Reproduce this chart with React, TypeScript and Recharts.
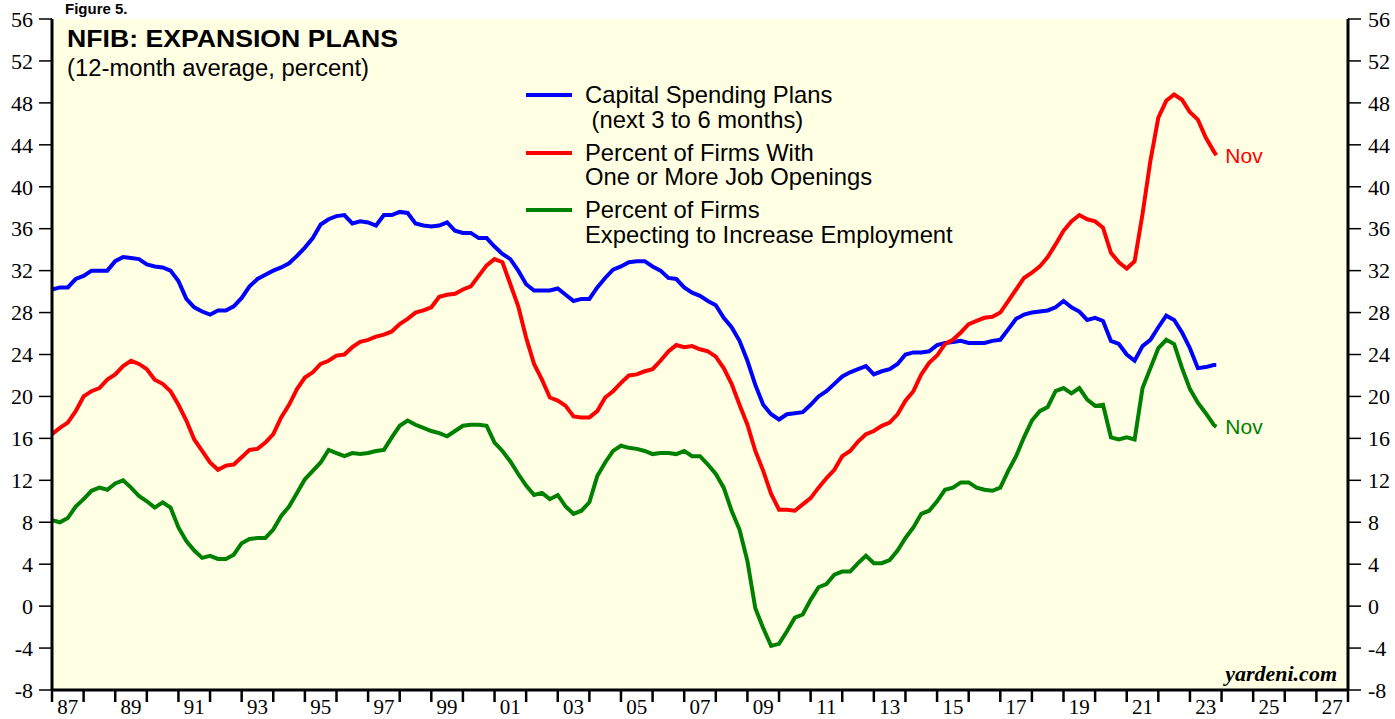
import * as React from 'react';
import {
  LineChart,
  Line,
  XAxis,
  YAxis,
  CartesianGrid,
  Legend,
} from 'recharts';

// ============================================
// Data (12-month averages, quarterly readings from Q1 1987, last point Nov 2023)
// ============================================

const START_YEAR = 1987;
const LAST_POINT = 2023 + 10 / 12; // Nov 2023

// Capital spending plans (next 3 to 6 months)
const capexPlans = [
  30.2, 30.4, 30.4, 31.2, // 87
  31.5, 32.0, 32.0, 32.0, // 88
  32.9, 33.3, 33.2, 33.1, // 89
  32.6, 32.4, 32.3, 32.0, // 90
  31.0, 29.3, 28.5, 28.1, // 91
  27.8, 28.2, 28.2, 28.6, // 92
  29.4, 30.5, 31.2, 31.6, // 93
  32.0, 32.3, 32.7, 33.4, // 94
  34.2, 35.1, 36.4, 36.9, // 95
  37.2, 37.3, 36.5, 36.7, // 96
  36.6, 36.3, 37.3, 37.3, // 97
  37.6, 37.5, 36.5, 36.3, // 98
  36.2, 36.3, 36.6, 35.8, // 99
  35.6, 35.6, 35.1, 35.1, // 00
  34.3, 33.6, 33.1, 32.0, // 01
  30.7, 30.1, 30.1, 30.1, // 02
  30.3, 29.7, 29.1, 29.3, // 03
  29.3, 30.4, 31.3, 32.1, // 04
  32.4, 32.8, 32.9, 32.9, // 05
  32.4, 32.0, 31.3, 31.2, // 06
  30.4, 29.9, 29.6, 29.1, // 07
  28.7, 27.5, 26.6, 25.3, // 08
  23.4, 21.1, 19.2, 18.3, // 09
  17.8, 18.3, 18.4, 18.5, // 10
  19.2, 20.0, 20.5, 21.2, // 11
  21.9, 22.3, 22.6, 22.9, // 12
  22.1, 22.4, 22.6, 23.1, // 13
  24.0, 24.2, 24.2, 24.3, // 14
  24.9, 25.1, 25.2, 25.3, // 15
  25.1, 25.1, 25.1, 25.3, // 16
  25.4, 26.4, 27.4, 27.8, // 17
  28.0, 28.1, 28.2, 28.5, // 18
  29.1, 28.5, 28.1, 27.3, // 19
  27.5, 27.2, 25.3, 25.0, // 20
  24.0, 23.4, 24.8, 25.4, // 21
  26.6, 27.7, 27.3, 26.1, // 22
  24.6, 22.7, 22.8, 23.0, // 23
  23.0, // Nov 23
];

// Percent of firms with one or more job openings
const jobOpenings = [
  16.4, 17.0, 17.5, 18.6, // 87
  20.0, 20.5, 20.8, 21.6, // 88
  22.1, 22.9, 23.4, 23.1, // 89
  22.6, 21.6, 21.2, 20.5, // 90
  19.2, 17.7, 15.9, 14.8, // 91
  13.7, 13.0, 13.4, 13.5, // 92
  14.2, 14.9, 15.0, 15.6, // 93
  16.4, 18.0, 19.2, 20.7, // 94
  21.8, 22.3, 23.1, 23.4, // 95
  23.9, 24.0, 24.7, 25.2, // 96
  25.4, 25.7, 25.9, 26.2, // 97
  26.9, 27.4, 28.0, 28.2, // 98
  28.5, 29.5, 29.7, 29.8, // 99
  30.2, 30.5, 31.5, 32.5, // 00
  33.1, 32.8, 30.7, 28.6, // 01
  25.6, 23.1, 21.6, 19.9, // 02
  19.6, 19.1, 18.1, 18.0, // 03
  18.0, 18.6, 19.9, 20.5, // 04
  21.3, 22.0, 22.1, 22.4, // 05
  22.6, 23.4, 24.3, 24.9, // 06
  24.7, 24.8, 24.5, 24.3, // 07
  23.8, 22.7, 21.2, 19.2, // 08
  17.3, 14.8, 12.9, 10.7, // 09
  9.2, 9.2, 9.1, 9.7, // 10
  10.3, 11.3, 12.2, 13.0, // 11
  14.3, 14.8, 15.7, 16.4, // 12
  16.7, 17.2, 17.5, 18.3, // 13
  19.6, 20.5, 22.1, 23.2, // 14
  23.9, 25.0, 25.4, 26.1, // 15
  26.9, 27.2, 27.5, 27.6, // 16
  28.0, 29.1, 30.2, 31.3, // 17
  31.8, 32.4, 33.3, 34.5, // 18
  35.8, 36.7, 37.3, 36.9, // 19
  36.7, 36.1, 33.7, 32.8, // 20
  32.2, 32.9, 37.4, 42.5, // 21
  46.6, 48.2, 48.8, 48.3, // 22
  47.1, 46.4, 44.7, 43.4, // 23
  43.0, // Nov 23
];

// Percent of firms expecting to increase employment
const hiringPlans = [
  8.2, 8.0, 8.4, 9.5, // 87
  10.2, 11.0, 11.3, 11.1, // 88
  11.7, 12.0, 11.3, 10.5, // 89
  10.0, 9.4, 9.9, 9.4, // 90
  7.5, 6.2, 5.3, 4.6, // 91
  4.8, 4.5, 4.5, 4.9, // 92
  6.0, 6.4, 6.5, 6.5, // 93
  7.3, 8.6, 9.5, 10.8, // 94
  12.1, 12.9, 13.7, 14.9, // 95
  14.6, 14.3, 14.6, 14.5, // 96
  14.6, 14.8, 14.9, 16.1, // 97
  17.2, 17.7, 17.3, 17.0, // 98
  16.7, 16.5, 16.2, 16.7, // 99
  17.2, 17.3, 17.3, 17.2, // 00
  15.6, 14.8, 13.8, 12.6, // 01
  11.5, 10.6, 10.8, 10.2, // 02
  10.6, 9.5, 8.8, 9.1, // 03
  9.9, 12.4, 13.7, 14.8, // 04
  15.3, 15.1, 15.0, 14.8, // 05
  14.5, 14.6, 14.6, 14.5, // 06
  14.8, 14.3, 14.3, 13.5, // 07
  12.6, 11.3, 9.1, 7.3, // 08
  4.3, -0.2, -2.1, -3.8, // 09
  -3.6, -2.4, -1.1, -0.8, // 10
  0.6, 1.8, 2.1, 3.0, // 11
  3.3, 3.3, 4.1, 4.8, // 12
  4.1, 4.1, 4.4, 5.3, // 13
  6.5, 7.5, 8.8, 9.1, // 14
  10.0, 11.1, 11.3, 11.8, // 15
  11.8, 11.3, 11.1, 11.0, // 16
  11.3, 12.9, 14.3, 16.1, // 17
  17.7, 18.6, 19.0, 20.5, // 18
  20.8, 20.3, 20.8, 19.7, // 19
  19.1, 19.2, 16.1, 15.9, // 20
  16.1, 15.9, 20.8, 22.7, // 21
  24.6, 25.4, 25.0, 22.7, // 22
  20.7, 19.4, 18.4, 17.3, // 23
  17.1, // Nov 23
];

const Y_TICKS = [-8, -4, 0, 4, 8, 12, 16, 20, 24, 28, 32, 36, 40, 44, 48, 52, 56];
const Y_DOMAIN: [number, number] = [-8, 56];
const X_DOMAIN: [number, number] = [1987, 2028];
const X_TICKS = Array.from({ length: 42 }, (_, i) => 1987 + i);

// the blue line is tied to the top x axis and the green one to the right y axis,
// so both frame axes get drawn (same domains, so same scales)
const SERIES = [
  {
    key: 'capex',
    color: '#0000ff',
    lines: ['Capital Spending Plans', ' (next 3 to 6 months)'],
    endLabel: false,
    xAxisId: 'top',
    yAxisId: 'left',
  },
  {
    key: 'jobs',
    color: '#ff0000',
    lines: ['Percent of Firms With', 'One or More Job Openings'],
    endLabel: true,
    xAxisId: 'bottom',
    yAxisId: 'left',
  },
  {
    key: 'hiring',
    color: '#008000',
    lines: ['Percent of Firms', 'Expecting to Increase Employment'],
    endLabel: true,
    xAxisId: 'bottom',
    yAxisId: 'right',
  },
];

const periods = capexPlans.map((_, i) =>
  i === capexPlans.length - 1 ? LAST_POINT : START_YEAR + i * 0.25,
);

const rows = periods.map((t, i) => ({
  t,
  capex: capexPlans[i],
  jobs: jobOpenings[i],
  hiring: hiringPlans[i],
}));

// ============================================
// Layout
// ============================================

const W = 1395;
const H = 719;
const PLOT_LEFT = 52;
const PLOT_RIGHT = 1348;
const PLOT_TOP = 19;
const PLOT_BOTTOM = 690;
const HALF_YEAR = (PLOT_RIGHT - PLOT_LEFT) / (X_DOMAIN[1] - X_DOMAIN[0]) / 2;

const SANS = '"Liberation Sans", Arial, Helvetica, sans-serif';
const SERIF = '"Liberation Serif", "Times New Roman", Times, serif';

const yTick = { fontFamily: SERIF, fontSize: 22, fill: '#000' };

function YearTick(props: { x: number; y: number; payload: { value: number } }) {
  const { x, y, payload } = props;
  const year = payload.value;
  if (year % 2 === 0 || year >= X_DOMAIN[1]) return null;
  return (
    <text
      x={x + HALF_YEAR}
      y={y + 10}
      textAnchor="middle"
      fontFamily={SERIF}
      fontSize={21}
      fill="#000"
    >
      {String(year % 100).padStart(2, '0')}
    </text>
  );
}

function endLabel(color: string) {
  return (props: { x?: number; y?: number; index?: number }) => {
    const { x = 0, y = 0, index } = props;
    if (index !== rows.length - 1) return null;
    return (
      <text
        key={`nov-${color}`}
        x={x + 9}
        y={y + 2}
        dominantBaseline="middle"
        fontFamily={SANS}
        fontSize={21}
        fill={color}
      >
        Nov
      </text>
    );
  };
}

function renderLegend() {
  return (
    <div style={{ fontFamily: SANS, fontSize: 23.8, lineHeight: '24.5px', color: '#000' }}>
      {SERIES.map((s) => (
        <div key={s.key} style={{ display: 'flex', marginBottom: 8.5 }}>
          <span
            style={{
              width: 46,
              height: 4,
              marginTop: 10,
              marginRight: 13,
              backgroundColor: s.color,
              flex: 'none',
            }}
          />
          <div style={{ whiteSpace: 'pre' }}>
            {s.lines.map((l) => (
              <div key={l}>{l}</div>
            ))}
          </div>
        </div>
      ))}
    </div>
  );
}

export default function App() {
  return (
    <div style={{ position: 'absolute', left: 0, top: 0, width: W, height: H, background: '#fff' }}>
      <LineChart
        width={W}
        height={H}
        data={rows}
        margin={{ top: PLOT_TOP, right: 0, bottom: 0, left: 0 }}
      >
        <CartesianGrid
          xAxisId="bottom"
          yAxisId="left"
          horizontal={false}
          vertical={false}
          fill="#ffffe3"
        />
        <XAxis
          xAxisId="bottom"
          dataKey="t"
          type="number"
          domain={X_DOMAIN}
          ticks={X_TICKS}
          interval={0}
          allowDataOverflow
          height={H - PLOT_BOTTOM}
          tickSize={12}
          tickMargin={2}
          tickLine={{ stroke: '#000', strokeWidth: 2.5 }}
          axisLine={{ stroke: '#000', strokeWidth: 3 }}
          tick={YearTick as never}
        />
        <XAxis
          xAxisId="top"
          orientation="top"
          dataKey="t"
          type="number"
          domain={X_DOMAIN}
          allowDataOverflow
          height={0}
          tick={false}
          tickLine={false}
          axisLine={{ stroke: '#000', strokeWidth: 3 }}
        />
        <YAxis
          yAxisId="left"
          type="number"
          domain={Y_DOMAIN}
          ticks={Y_TICKS}
          interval={0}
          allowDataOverflow
          width={PLOT_LEFT}
          tickSize={13}
          tickMargin={6}
          tick={yTick}
          tickLine={{ stroke: '#000', strokeWidth: 1.5 }}
          axisLine={{ stroke: '#000', strokeWidth: 3 }}
        />
        <YAxis
          yAxisId="right"
          orientation="right"
          type="number"
          domain={Y_DOMAIN}
          ticks={Y_TICKS}
          interval={0}
          allowDataOverflow
          width={W - PLOT_RIGHT}
          tickSize={13}
          tickMargin={7}
          tick={yTick}
          tickLine={{ stroke: '#000', strokeWidth: 1.5 }}
          axisLine={{ stroke: '#000', strokeWidth: 3 }}
        />
        <Legend
          layout="vertical"
          align="center"
          verticalAlign="middle"
          content={renderLegend as never}
          wrapperStyle={{ left: 526, top: 83, width: 'auto', height: 'auto' }}
        />
        {SERIES.map((s) => (
          <Line
            key={s.key}
            xAxisId={s.xAxisId}
            yAxisId={s.yAxisId}
            dataKey={s.key}
            type="linear"
            stroke={s.color}
            strokeWidth={4}
            dot={false}
            isAnimationActive={false}
            label={s.endLabel ? (endLabel(s.color) as never) : false}
          />
        ))}
      </LineChart>

      <svg
        width={W}
        height={H}
        style={{ position: 'absolute', left: 0, top: 0, pointerEvents: 'none' }}
      >
        <text x={65} y={14} fontFamily={SANS} fontWeight="bold" fontSize={15} fill="#000">
          Figure 5.
        </text>
        <text
          x={67}
          y={47}
          textLength={331}
          lengthAdjust="spacingAndGlyphs"
          fontFamily={SANS}
          fontWeight="bold"
          fontSize={24.5}
          fill="#000"
        >
          NFIB: EXPANSION PLANS
        </text>
        <text
          x={67}
          y={76}
          textLength={302}
          lengthAdjust="spacingAndGlyphs"
          fontFamily={SANS}
          fontSize={23.5}
          fill="#000"
        >
          (12-month average, percent)
        </text>
        <text
          x={1337}
          y={681}
          textAnchor="end"
          fontFamily={SERIF}
          fontWeight="bold"
          fontStyle="italic"
          fontSize={22}
          fill="#000"
        >
          yardeni.com
        </text>
      </svg>
    </div>
  );
}
